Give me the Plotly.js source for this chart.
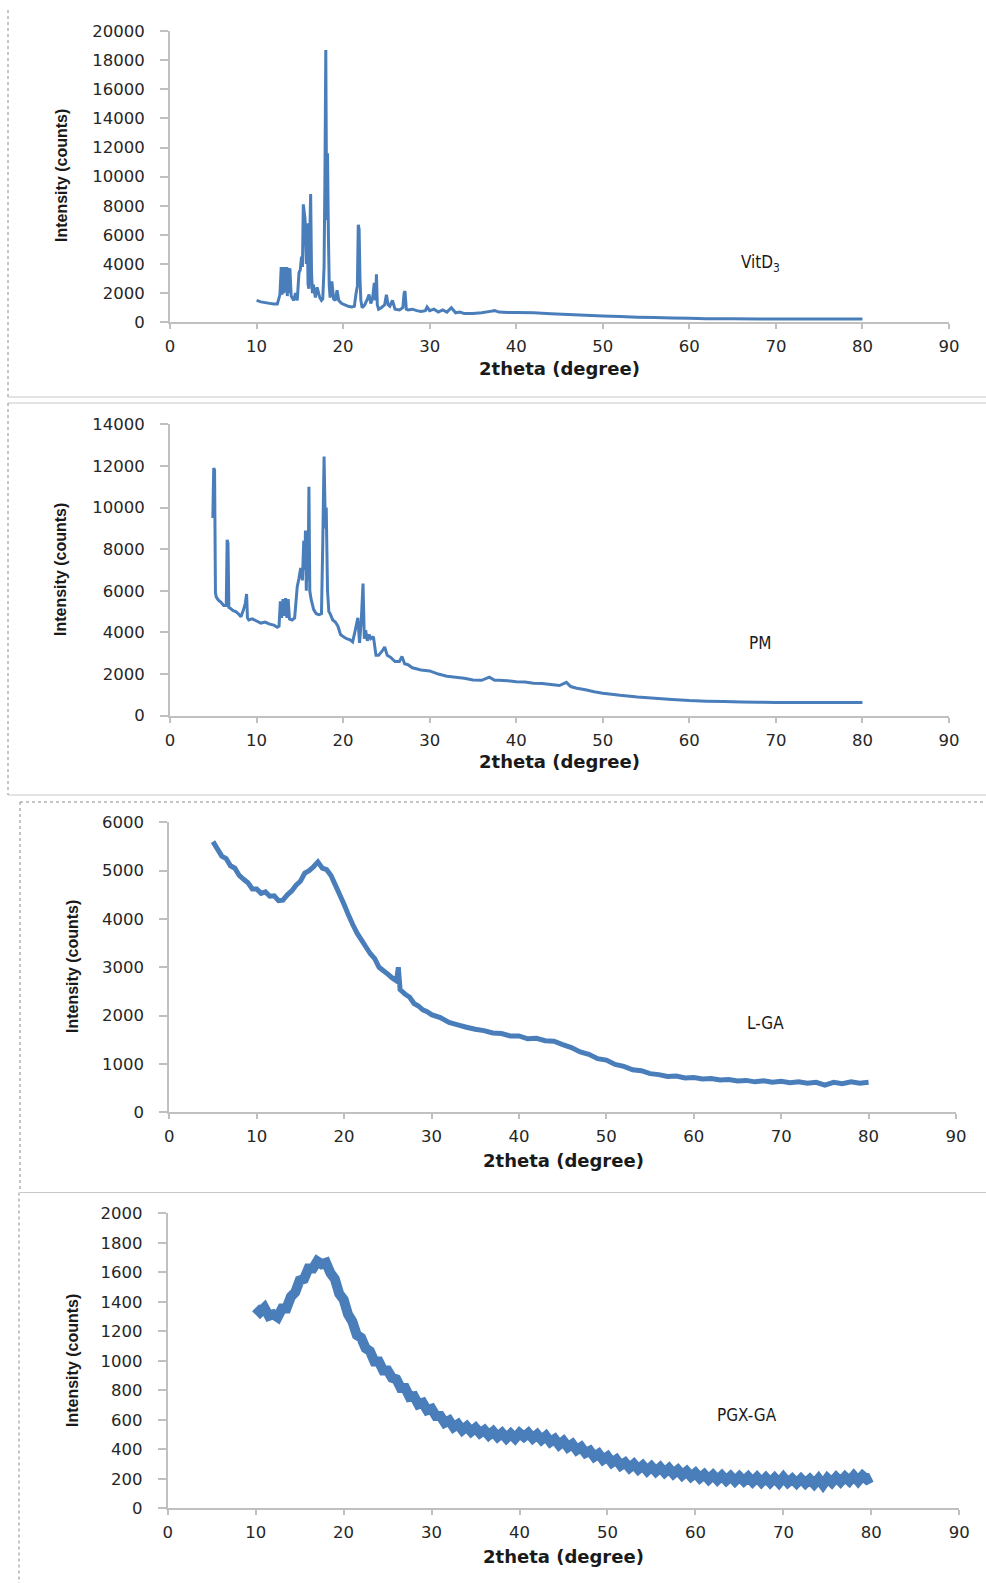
<!DOCTYPE html>
<html>
<head>
<meta charset="utf-8">
<script src="https://cdn.plot.ly/plotly-3.0.1.min.js"></script>
<style>
html,body{margin:0;padding:0;background:#fff;}
#chart{width:986px;height:1583px;}
</style>
</head>
<body>
<div id="chart"></div>
<script>
// ---------------- DATA ----------------
const vitd3X = [10,10.5,11,11.5,12,12.4,12.7,12.85,12.95,13.05,13.15,13.25,13.35,13.45,13.55,13.65,13.75,13.85,14.0,14.3,14.5,14.7,14.9,15.05,15.2,15.3,15.4,15.5,15.6,15.75,15.85,15.95,16.05,16.15,16.25,16.35,16.45,16.55,16.8,17.0,17.3,17.5,17.65,17.8,17.9,18.0,18.1,18.2,18.3,18.4,18.5,18.7,18.9,19.1,19.3,19.5,19.8,20.2,20.6,21.0,21.3,21.5,21.65,21.75,21.85,21.95,22.05,22.2,22.5,22.8,23.0,23.2,23.4,23.6,23.75,23.85,23.95,24.1,24.4,24.8,25.0,25.2,25.4,25.7,26.0,26.5,26.9,27.05,27.15,27.3,27.5,28,28.5,29,29.5,29.7,30,30.5,31,31.5,32,32.5,33,33.5,34,35,36,37,37.5,38,39,40,42,44,46,48,50,52,54,56,58,60,62,65,68,71,74,77,80];
const vitd3Y = [1500,1400,1350,1300,1250,1250,1900,3800,1900,3800,2000,3800,2100,3800,1800,3750,2000,3700,1800,1500,2000,1500,3400,3600,4500,3800,8100,7600,7100,4000,6800,2600,2300,6000,8800,3500,2000,2600,1700,2400,1700,1500,1600,3800,10000,18700,7000,11600,6000,2500,1700,2800,1600,1500,2200,1500,1300,1200,1100,1050,1100,2000,2500,6700,6400,3000,1500,1000,1200,1600,1900,1300,1600,2700,1500,3300,1200,900,1000,1200,1900,1200,1100,1500,900,850,1000,2000,2150,900,850,900,800,750,800,1050,800,900,700,850,700,1000,650,700,600,600,650,750,800,700,680,680,650,580,530,480,430,390,350,330,300,270,250,240,230,230,225,230,230];

const pmX = [4.95,5.05,5.15,5.25,5.35,5.6,5.9,6.2,6.5,6.6,6.7,6.8,7.0,7.3,7.6,7.9,8.2,8.5,8.7,8.85,8.95,9.1,9.5,10,10.5,11,11.5,12,12.4,12.6,12.75,12.9,13.05,13.2,13.35,13.5,13.65,13.8,14.1,14.4,14.7,14.9,15.1,15.3,15.45,15.55,15.65,15.75,15.85,15.95,16.05,16.15,16.3,16.6,16.9,17.2,17.5,17.65,17.8,17.95,18.05,18.2,18.35,18.5,18.8,19.1,19.4,19.7,20.0,20.4,20.8,21.1,21.4,21.7,21.9,22.1,22.3,22.45,22.6,22.8,23.0,23.2,23.5,23.8,24.1,24.5,24.8,25.1,25.5,26.0,26.5,26.8,27.1,27.5,28,29,30,31,32,33,34,35,36,36.9,37.5,38,39,40,41,42,43,44,45,45.8,46.3,47,48,49,50,52,54,56,58,60,62,64,66,68,70,72,74,76,78,80];
const pmY = [9500,11900,11800,5900,5700,5550,5450,5300,5300,8450,8300,5200,5150,5050,5000,4900,4750,5100,5400,5850,4700,4600,4650,4550,4450,4500,4400,4350,4250,4300,5500,4700,5600,4800,5650,4700,5600,4650,4600,4700,6200,6600,7100,6500,8400,7000,8900,6000,8500,6500,11000,6000,5600,5100,4900,4850,4900,8300,12450,9000,10000,6000,5000,4900,4600,4500,4300,3900,3800,3700,3650,3550,4100,4700,3500,4600,6350,3700,4100,3600,3900,3700,3800,2900,2900,3100,3300,2900,2800,2600,2600,2850,2500,2450,2300,2200,2150,2000,1900,1850,1800,1720,1700,1850,1700,1700,1680,1630,1620,1560,1550,1500,1450,1600,1400,1320,1250,1150,1080,980,900,840,780,730,700,680,660,650,640,640,630,640,630,640];

const lgaX = [5,5.5,6,6.5,7,7.5,8,8.5,9,9.5,10,10.5,11,11.5,12,12.5,13,13.5,14,14.5,15,15.5,16,16.5,17,17.5,18,18.5,19,19.5,20,20.5,21,21.5,22,22.5,23,23.5,24,24.5,25,25.5,26,26.2,26.4,27,27.5,28,28.5,29,29.5,30,31,32,33,34,35,36,37,38,39,40,41,42,43,44,45,46,47,48,49,50,51,52,53,54,55,56,57,58,59,60,61,62,63,64,65,66,67,68,69,70,71,72,73,74,75,76,77,78,79,80];
const lgaY = [5600,5450,5300,5250,5100,5050,4900,4820,4750,4620,4620,4530,4560,4470,4480,4380,4390,4500,4580,4700,4780,4950,5000,5080,5180,5050,5020,4900,4700,4500,4300,4080,3880,3700,3560,3420,3280,3180,3000,2930,2860,2780,2720,3000,2540,2440,2380,2250,2200,2120,2080,2020,1960,1860,1810,1760,1720,1690,1640,1630,1580,1580,1520,1530,1480,1470,1400,1340,1250,1200,1110,1080,990,950,880,860,800,780,740,750,710,720,690,700,670,680,650,660,630,650,620,640,610,630,600,620,560,620,590,630,600,620];

const pgxX = [10,10.5,11,11.5,12,12.5,13,13.5,14,14.5,15,15.5,16,16.5,17,17.5,18,18.5,19,19.5,20,20.5,21,21.5,22,22.5,23,23.5,24,24.5,25,25.5,26,26.5,27,27.5,28,28.5,29,29.5,30,30.5,31,31.5,32,32.5,33,33.5,34,34.5,35,35.5,36,36.5,37,37.5,38,38.5,39,39.5,40,40.5,41,41.5,42,42.5,43,43.5,44,44.5,45,45.5,46,46.5,47,47.5,48,48.5,49,49.5,50,50.5,51,51.5,52,52.5,53,53.5,54,54.5,55,55.5,56,56.5,57,57.5,58,58.5,59,59.5,60,60.5,61,61.5,62,62.5,63,63.5,64,64.5,65,65.5,66,66.5,67,67.5,68,68.5,69,69.5,70,70.5,71,71.5,72,72.5,73,73.5,74,74.5,75,75.5,76,76.5,77,77.5,78,78.5,79,79.5,80];
const pgxY = [1360,1330,1360,1305,1315,1295,1355,1355,1435,1465,1545,1555,1625,1625,1675,1655,1665,1595,1555,1455,1415,1315,1265,1175,1155,1085,1065,995,995,935,935,885,875,815,815,755,760,705,715,665,675,625,625,580,595,550,570,530,555,520,545,510,530,495,520,485,510,475,505,475,510,485,510,475,500,465,490,450,470,430,455,415,435,395,415,375,390,350,370,330,350,310,330,290,310,275,300,265,290,255,283,250,277,243,270,235,260,225,250,215,240,205,230,197,225,193,221,189,217,185,215,185,213,180,210,177,207,175,205,173,210,175,200,170,200,170,197,165,200,160,203,175,210,180,213,185,220,185,220,195,210];

const panelLabels = ['VitD<sub>3</sub>', 'PM', 'L-GA', 'PGX-GA'];
const yRanges = [[0,20000],[0,14000],[0,6000],[0,2000]];
const yDticks = [2000, 2000, 1000, 200];
const xTitle = '2theta (degree)';
const yTitle = 'Intensity (counts)';

// ---------------- LAYOUT (pixel geometry) ----------------
const W = 986, H = 1583;
const px = v => v / W;
const py = v => 1 - v / H;
const BLUE = '#4a7ebb';

// plot boxes: [left, right, top, bottom] in px
const boxes = [
  [170, 949, 31, 322.3],
  [170, 949, 424.3, 715.7],
  [169.3, 956, 822.3, 1112.3],
  [167.7, 959.3, 1213.3, 1508.3]
];
const lineWidths = [3, 3, 5, 10];
const series = [[vitd3X, vitd3Y], [pmX, pmY], [lgaX, lgaY], [pgxX, pgxY]];

const labelPos = [[760, 263], [760, 643], [765, 1023], [747, 1415]];
const yTitlePos = [[61, 176], [60, 570], [72, 967], [72, 1361]];
const xTitlePos = [[559, 369], [559, 762], [563, 1160], [563, 1556]];

const tickFont = {family: 'DejaVu Sans, Verdana, sans-serif', size: 16.5, color: '#262626'};
const AX = '#c0c0c0';

const traces = [];
const layout = {
  width: W, height: H,
  margin: {l: 0, r: 0, t: 0, b: 0, pad: 0},
  paper_bgcolor: '#fff', plot_bgcolor: 'rgba(0,0,0,0)',
  showlegend: false,
  annotations: [],
  shapes: []
};

series.forEach((s, i) => {
  const n = i === 0 ? '' : String(i + 1);
  traces.push({
    x: s[0], y: s[1], type: 'scatter', mode: 'lines',
    xaxis: 'x' + n, yaxis: 'y' + n,
    line: {color: BLUE, width: lineWidths[i], simplify: false},
    hoverinfo: 'skip'
  });
  const b = boxes[i];
  layout['xaxis' + n] = {
    domain: [px(b[0]), px(b[1])], anchor: 'y' + n,
    range: [0, 90], dtick: 10, tick0: 0, tickformat: 'd',
    showgrid: false, zeroline: false,
    showline: true, linecolor: AX, linewidth: 2,
    ticks: 'outside', ticklen: 5, tickwidth: 2, tickcolor: AX,
    tickfont: tickFont, ticklabelstandoff: 3, fixedrange: true
  };
  layout['yaxis' + n] = {
    domain: [py(b[3]), py(b[2])], anchor: 'x' + n,
    range: yRanges[i], dtick: yDticks[i], tick0: 0, tickformat: 'd',
    showgrid: false, zeroline: false,
    showline: true, linecolor: AX, linewidth: 2,
    ticks: 'outside', ticklen: 8, tickwidth: 2, tickcolor: AX,
    tickfont: tickFont, ticklabelstandoff: 12, fixedrange: true
  };
  layout.annotations.push({
    xref: 'paper', yref: 'paper', x: px(labelPos[i][0]), y: py(labelPos[i][1]),
    text: panelLabels[i], showarrow: false, xanchor: 'center', yanchor: 'middle',
    font: {family: 'Liberation Sans Narrow, DejaVu Sans Condensed, Liberation Sans, sans-serif', size: 17, color: '#1a1a1a'}
  });
  layout.annotations.push({
    xref: 'paper', yref: 'paper', x: px(yTitlePos[i][0]), y: py(yTitlePos[i][1]),
    text: '<b>' + yTitle + '</b>', showarrow: false, textangle: -90, xanchor: 'center', yanchor: 'middle',
    font: {family: 'Liberation Sans, Arial, sans-serif', size: 16, color: '#1a1a1a'}
  });
  layout.annotations.push({
    xref: 'paper', yref: 'paper', x: px(xTitlePos[i][0]), y: py(xTitlePos[i][1]),
    text: '<b>' + xTitle + '</b>', showarrow: false, xanchor: 'center', yanchor: 'middle',
    font: {family: 'DejaVu Sans, Verdana, sans-serif', size: 18, color: '#1a1a1a'}
  });
});

// panel frames
function seg(x0, y0, x1, y1, color, dash) {
  layout.shapes.push({type: 'line', xref: 'paper', yref: 'paper',
    x0: px(x0), y0: py(y0), x1: px(x1), y1: py(y1),
    line: {color: color, width: 1, dash: dash}});
}
const GRAY = '#c8c8c8', DOT = '#8a8a8a';
seg(8, 10, 8, 397, DOT, 'dot');
seg(8, 397, 986, 397, GRAY, 'solid');
seg(8, 403, 986, 403, GRAY, 'solid');
seg(8, 403, 8, 795, DOT, 'dot');
seg(8, 795, 986, 795, GRAY, 'solid');
seg(20, 802, 986, 802, DOT, 'dot');
seg(20, 802, 20, 1192, DOT, 'dot');
seg(20, 1192.5, 986, 1192.5, GRAY, 'solid');
seg(19, 1192.5, 19, 1583, DOT, 'dot');

Plotly.newPlot('chart', traces, layout, {staticPlot: true, displayModeBar: false});
</script>
</body>
</html>
